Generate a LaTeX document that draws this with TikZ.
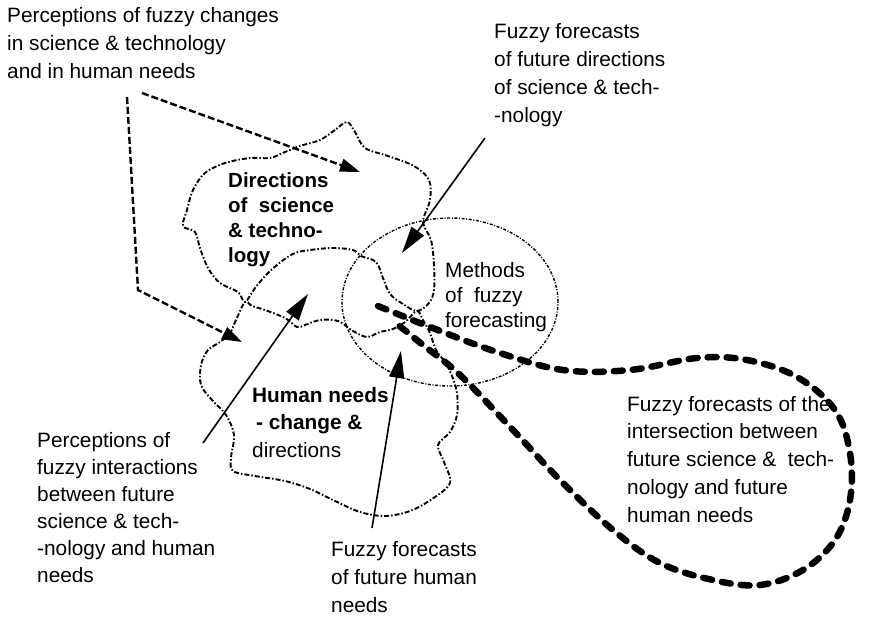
\documentclass[tikz,border=0pt]{standalone}
\usepackage{fontspec}
\setmainfont{Liberation Sans}
\usetikzlibrary{arrows.meta,shapes.geometric}
\begin{document}
\begin{tikzpicture}[x=1pt,y=-1pt,
  lbl/.style={anchor=north west, align=left, inner sep=0pt},
  fnt/.style={font=\fontsize{20.8}{#1}\selectfont},
  fntb/.style={font=\fontsize{20.5}{#1}\selectfont\bfseries},
  blobline/.style={line width=1.9pt, dash pattern=on 5pt off 2pt on 1.5pt off 2pt, line join=round},
  ellline/.style={line width=1.4pt, dash pattern=on 3pt off 1.6pt on 1pt off 1.6pt},
  loopline/.style={line width=6.5pt, line cap=round, dash pattern=on 9pt off 10pt},
  solidarr/.style={line width=1.6pt, -{Triangle[length=27pt,width=15pt]}},
  dasharr/.style={line width=2.4pt, dash pattern=on 7pt off 3pt, -{Triangle[length=20pt,width=13pt]}},
]
\useasboundingbox (0,0) rectangle (875,616);

% top blob: directions of science & technology
\draw[blobline] plot[smooth cycle, tension=0.55] coordinates {
 (347,122) (335,130) (320,140) (300,146) (285,152) (270,158) (250,158) (225,163)
 (205,173) (193,190) (187,210) (183,226) (195,232) (200,248) (208,268) (220,283)
 (238,292) (245,302) (255,288) (268,273) (282,261) (295,253) (310,250) (333,248)
 (353,250) (361,256) (376,262) (383,278) (390,294) (403,304) (417,311) (429,303)
 (434,290) (434,265) (431,240) (423,222) (430,200) (429,180) (414,166) (388,156)
 (365,148) (355,132)};

% lower blob: human needs
\draw[blobline] plot[smooth cycle, tension=0.55] coordinates {
 (245,302) (236,320) (230,333) (220,342) (208,350) (201,365) (201,385) (212,400)
 (226,415) (234,435) (231,458) (233,471) (255,476) (285,481) (310,489) (335,501)
 (360,512) (385,516) (410,511) (432,499) (450,483) (444,462) (438,445) (450,432)
 (457,415) (457,393) (452,376) (445,362) (436,350) (430,333) (423,320) (417,311)
 (405,322) (393,329) (380,332) (367,337) (353,331) (338,321) (320,320) (305,325)
 (297,327) (285,318) (265,310) (252,306)};

% ellipse: methods of fuzzy forecasting
\node[draw, ellipse, ellline, minimum width=216pt, minimum height=168pt, inner sep=0pt] (methods) at (450,302) {};

% thick loop: intersection
\draw[loopline] plot[smooth, tension=0.6] coordinates {
 (378,306) (430,327) (497,352) (563,370) (630,370) (697,358) (747,360) (797,377)
 (835,410) (850,453) (850,500) (835,540) (803,570) (760,585) (713,580) (660,563)
 (613,530) (560,480) (513,430) (460,375) (423,345) (392,320)};

% texts
\node[lbl, fnt=28] (tPercChanges) at (7,7) {Perceptions of fuzzy changes\\in science \& technology\\and in human needs};
\node[lbl, fnt=28] (tFFdir) at (494,23) {Fuzzy forecasts\\of future directions\\of science \& tech-\\-nology};
\node[lbl, fntb=25] (tDir) at (228,172) {Directions\\of\ \ science\\\& techno-\\logy};
\node[lbl, fnt=25] (tMethods) at (445,262) {Methods\\of\ \ fuzzy\\forecasting};
\node[lbl, fnt=27.5] (tHuman) at (252,387) {\textbf{Human needs}\\\hspace{4pt}\textbf{- change \&}\\directions};
\node[lbl, fnt=27] (tPercInter) at (37,432) {Perceptions of\\fuzzy interactions\\between future\\science \& tech-\\-nology and human\\needs};
\node[lbl, fnt=28] (tFFhuman) at (331,541) {Fuzzy forecasts\\of future human\\needs};
\node[lbl, fnt=27.7] (tFFinter) at (627,396) {Fuzzy forecasts of the\\intersection between\\future science \&\ \ tech-\\nology and future\\human needs};

% connectors
\coordinate (d1s) at (142,93);
\coordinate (d1e) at (360,172);
\coordinate (d2s) at (127,97);
\coordinate (d2m) at (138,290);
\coordinate (d2e) at (242,342);
\coordinate (a1s) at (485,138);
\coordinate (a1e) at (402,253);
\coordinate (a2s) at (203,443);
\coordinate (a2e) at (308,294);
\coordinate (a3s) at (372,528);
\coordinate (a3e) at (401,351);

\draw[dasharr] (d1s) -- (d1e);
\draw[dasharr] (d2s) -- (d2m) -- (d2e);
\draw[solidarr] (a1s) -- (a1e);
\draw[solidarr] (a2s) -- (a2e);
\draw[solidarr] (a3s) -- (a3e);
\end{tikzpicture}
\end{document}
